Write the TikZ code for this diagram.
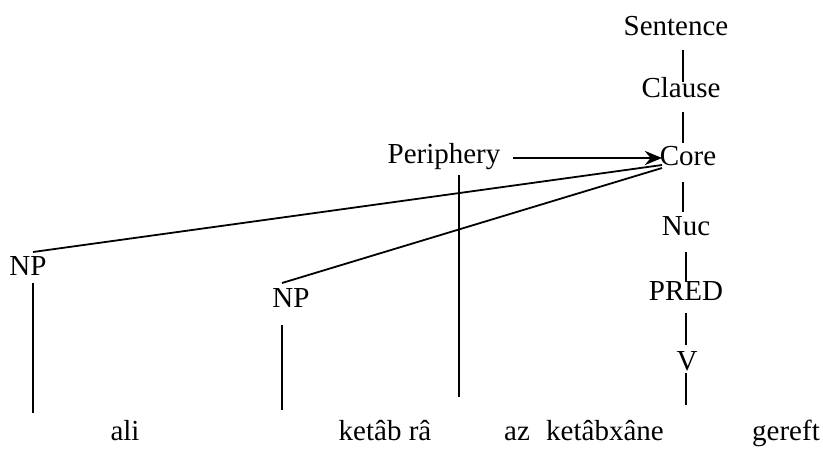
\documentclass[tikz,border=0pt]{standalone}
\usepackage{fontspec}
\setmainfont{Liberation Serif}
\usetikzlibrary{arrows.meta}
\tikzstyle{lb} = [inner sep=0pt, outer sep=0pt, anchor=base,
    font=\fontsize{29}{35}\selectfont]

\begin{document}
\begin{tikzpicture}[x=1pt,y=-1pt,line width=1.8pt,>={Stealth[length=17pt,width=14pt]}]
  \useasboundingbox (0,0) rectangle (823,448);

  \node[lb] (sent)   at (676,35)  {Sentence};
  \node[lb] (cl)     at (681,97)  {Clause};
  \node[lb] (core)   at (688,165) {Core};
  \node[lb] (peri)   at (444,163) {Periphery};
  \node[lb] (nuc)    at (686,235) {Nuc};
  \node[lb] (pred)   at (686,300) {PRED};
  \node[lb] (v)      at (687,370) {V};
  \node[lb] (np1)    at (28,275)  {NP};
  \node[lb] (np2)    at (291,307) {NP};

  \node[lb] (ali)    at (125,440) {ali};
  \node[lb] (ketab)  at (385,440) {ketâb râ};
  \node[lb] (az)     at (517,440) {az};
  \node[lb] (ketabx) at (605,440) {ketâbxâne};
  \node[lb] (gereft) at (786,440) {gereft};

  \coordinate (np1end)  at (33,413);
  \coordinate (np2end)  at (282,410);
  \coordinate (periend) at (459,397);
  \coordinate (vend)    at (686,405);

  % spine
  \path ([xshift=7pt,yshift=-15pt]sent.base) edge ([xshift=2pt,yshift=15pt]cl.base)
  ([xshift=2pt,yshift=-15pt]cl.base) edge ([xshift=-5pt,yshift=22pt]core.base)
  ([xshift=-5pt,yshift=-17pt]core.base) edge ([xshift=-3pt,yshift=23pt]nuc.base)
  ([yshift=-17pt]nuc.base) edge ([yshift=18pt]pred.base)
  ([yshift=-13pt]pred.base) edge ([xshift=-1pt,yshift=25pt]v.base)
  ([xshift=-1pt,yshift=-3pt]v.base) edge (vend);

  % core to the NPs
  \path ([xshift=-26pt]core.base) edge ([xshift=5pt,yshift=23pt]np1.base)
  ([xshift=-26pt,yshift=-3pt]core.base) edge ([xshift=-9pt,yshift=24pt]np2.base)
  ([xshift=5pt,yshift=-8pt]np1.base) edge (np1end)
  ([xshift=-9pt,yshift=-18pt]np2.base) edge (np2end)
  ([xshift=15pt,yshift=-12pt]peri.base) edge (periend);

  \draw[->,line width=2.8pt] ([xshift=69pt,yshift=5pt]peri.base) -- ([xshift=-26pt,yshift=7pt]core.base);
\end{tikzpicture}
\end{document}
